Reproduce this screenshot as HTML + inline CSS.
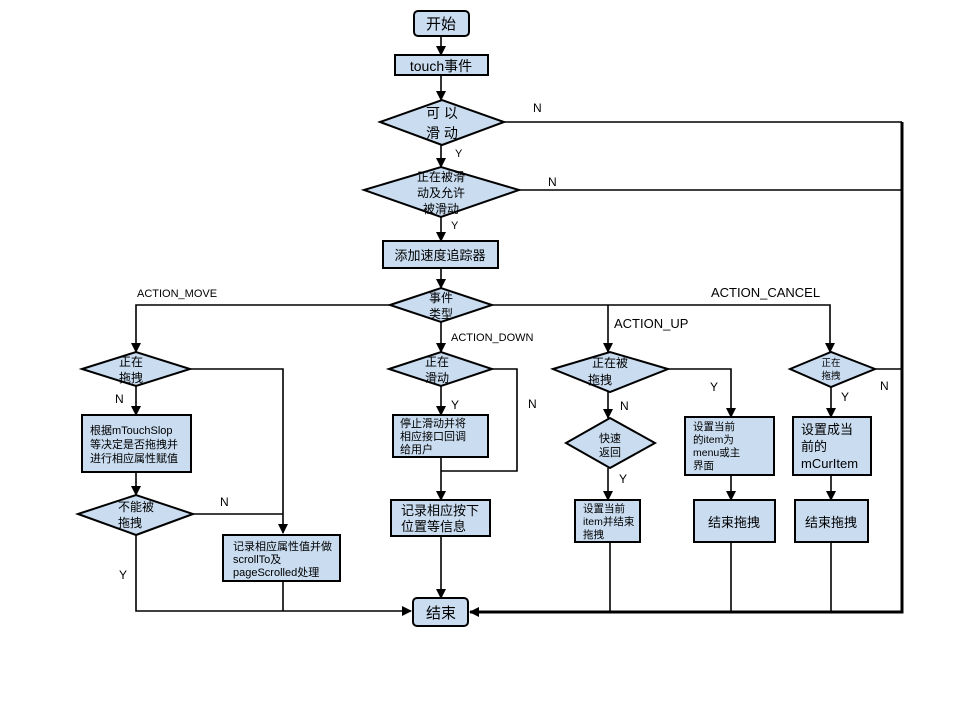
<!DOCTYPE html>
<html><head><meta charset="utf-8"><style>
html,body{margin:0;padding:0;background:#fff;}
svg{display:block;}
text{font-family:"Liberation Sans","Noto Sans CJK SC",sans-serif;fill:#000;}
.b{fill:#c9dcf0;stroke:#000;stroke-width:2;}
.l{stroke:#000;stroke-width:1.6;fill:none;}
.t{stroke:#000;stroke-width:3;fill:none;}
</style></head><body>
<svg width="960" height="720" viewBox="0 0 960 720" xmlns="http://www.w3.org/2000/svg">
<defs><marker id="a" markerWidth="10" markerHeight="10" refX="9" refY="5" orient="auto" markerUnits="userSpaceOnUse"><path d="M0,0 L10,5 L0,10 z" fill="#000"/></marker></defs>

<!-- connectors -->
<path class="l" d="M441,36 V55" marker-end="url(#a)"/>
<path class="l" d="M441,75 V100" marker-end="url(#a)"/>
<path class="l" d="M441,145 V167" marker-end="url(#a)"/>
<path class="l" d="M441,217 V241" marker-end="url(#a)"/>
<path class="l" d="M441,268 V288" marker-end="url(#a)"/>
<path class="l" d="M504,122 H902"/>
<path class="l" d="M519,190 H902"/>
<path class="t" d="M902,122 V612 H470" marker-end="url(#a)"/>
<path class="l" d="M390,305 H136 V352" marker-end="url(#a)"/>
<path class="l" d="M492,305 H830 V352" marker-end="url(#a)"/>
<path class="l" d="M608,305 V352" marker-end="url(#a)"/>
<path class="l" d="M441,322 V352" marker-end="url(#a)"/>
<!-- left -->
<path class="l" d="M190,369 H283 V533" marker-end="url(#a)"/>
<path class="l" d="M136,386 V415" marker-end="url(#a)"/>
<path class="l" d="M136,472 V495" marker-end="url(#a)"/>
<path class="l" d="M193,514 H283"/>
<path class="l" d="M136,535 V611 H411" marker-end="url(#a)"/>
<path class="l" d="M283,581 V611"/>
<!-- middle -->
<path class="l" d="M492,369 H517 V471 H441"/>
<path class="l" d="M441,386 V415" marker-end="url(#a)"/>
<path class="l" d="M441,457 V500" marker-end="url(#a)"/>
<path class="l" d="M441,536 V598" marker-end="url(#a)"/>
<!-- up -->
<path class="l" d="M668,369 H731 V417" marker-end="url(#a)"/>
<path class="l" d="M608,392 V418" marker-end="url(#a)"/>
<path class="l" d="M608,468 V500" marker-end="url(#a)"/>
<path class="l" d="M731,475 V500" marker-end="url(#a)"/>
<path class="l" d="M610,542 V612"/>
<path class="l" d="M731,542 V612"/>
<!-- cancel -->
<path class="l" d="M875,369 H902"/>
<path class="l" d="M831,387 V417" marker-end="url(#a)"/>
<path class="l" d="M831,475 V500" marker-end="url(#a)"/>
<path class="l" d="M831,542 V612"/>

<!-- shapes -->
<rect class="b" x="414" y="11" width="55" height="25" rx="4"/>
<text x="441" y="29" font-size="15" text-anchor="middle">开始</text>
<rect class="b" x="395" y="55" width="93" height="20"/>
<text x="441" y="71" font-size="14" text-anchor="middle">touch事件</text>
<polygon class="b" points="380,122 442,100 504,122 442,145"/>
<text x="442" y="118" font-size="14" text-anchor="middle">可 以</text>
<text x="442" y="138" font-size="14" text-anchor="middle">滑 动</text>
<polygon class="b" points="364,190 441,167 519,190 441,217"/>
<text x="441" y="181" font-size="12" text-anchor="middle">正在被滑</text>
<text x="441" y="197" font-size="12" text-anchor="middle">动及允许</text>
<text x="441" y="213" font-size="12" text-anchor="middle">被滑动</text>
<rect class="b" x="383" y="241" width="115" height="27"/>
<text x="440" y="260" font-size="13" text-anchor="middle">添加速度追踪器</text>
<polygon class="b" points="390,305 441,288 492,305 441,322"/>
<text x="441" y="302" font-size="12" text-anchor="middle">事件</text>
<text x="441" y="318" font-size="12" text-anchor="middle">类型</text>

<polygon class="b" points="82,369 136,352 190,369 136,386"/>
<text x="131" y="366" font-size="12" text-anchor="middle">正在</text>
<text x="131" y="382" font-size="12" text-anchor="middle">拖拽</text>
<rect class="b" x="82" y="415" width="109" height="57"/>
<text x="90" y="434" font-size="11">根据mTouchSlop</text>
<text x="90" y="448" font-size="11">等决定是否拖拽并</text>
<text x="90" y="462" font-size="11">进行相应属性赋值</text>
<polygon class="b" points="78,514 136,495 193,514 136,535"/>
<text x="136" y="511" font-size="12" text-anchor="middle">不能被</text>
<text x="130" y="527" font-size="12" text-anchor="middle">拖拽</text>
<rect class="b" x="223" y="535" width="117" height="46"/>
<text x="233" y="550" font-size="11">记录相应属性值并做</text>
<text x="233" y="563" font-size="11">scrollTo及</text>
<text x="233" y="576" font-size="11">pageScrolled处理</text>

<polygon class="b" points="389,369 441,352 492,369 441,386"/>
<text x="437" y="366" font-size="12" text-anchor="middle">正在</text>
<text x="437" y="382" font-size="12" text-anchor="middle">滑动</text>
<rect class="b" x="393" y="415" width="95" height="42"/>
<text x="400" y="427" font-size="11">停止滑动并将</text>
<text x="400" y="440" font-size="11">相应接口回调</text>
<text x="400" y="453" font-size="11">给用户</text>
<rect class="b" x="391" y="500" width="99" height="36"/>
<text x="401" y="515" font-size="13">记录相应按下</text>
<text x="401" y="531" font-size="13">位置等信息</text>
<rect class="b" x="413" y="598" width="55" height="28" rx="4"/>
<text x="441" y="618" font-size="15" text-anchor="middle">结束</text>

<polygon class="b" points="553,369 610,352 668,369 610,392"/>
<text x="610" y="367" font-size="12" text-anchor="middle">正在被</text>
<text x="600" y="384" font-size="12" text-anchor="middle">拖拽</text>
<polygon class="b" points="566,443 610,418 655,443 610,468"/>
<text x="610" y="442" font-size="11" text-anchor="middle">快速</text>
<text x="610" y="456" font-size="11" text-anchor="middle">返回</text>
<rect class="b" x="575" y="500" width="65" height="42"/>
<text x="583" y="512" font-size="10.5">设置当前</text>
<text x="583" y="525" font-size="10.5">item并结束</text>
<text x="583" y="538" font-size="10.5">拖拽</text>
<rect class="b" x="685" y="417" width="89" height="58"/>
<text x="693" y="430" font-size="10.5">设置当前</text>
<text x="693" y="443" font-size="10.5">的item为</text>
<text x="693" y="456" font-size="10.5">menu或主</text>
<text x="693" y="469" font-size="10.5">界面</text>
<rect class="b" x="694" y="500" width="81" height="42"/>
<text x="734" y="527" font-size="13" text-anchor="middle">结束拖拽</text>

<polygon class="b" points="790,369 831,352 875,369 831,387"/>
<text x="831" y="366" font-size="9.5" text-anchor="middle">正在</text>
<text x="831" y="379" font-size="9.5" text-anchor="middle">拖拽</text>
<rect class="b" x="793" y="417" width="78" height="58"/>
<text x="801" y="434" font-size="13">设置成当</text>
<text x="801" y="451" font-size="13">前的</text>
<text x="801" y="468" font-size="13">mCurItem</text>
<rect class="b" x="795" y="500" width="73" height="42"/>
<text x="831" y="527" font-size="13" text-anchor="middle">结束拖拽</text>

<!-- labels -->
<text x="533" y="112" font-size="12">N</text>
<text x="455" y="157" font-size="11">Y</text>
<text x="548" y="186" font-size="12">N</text>
<text x="451" y="229" font-size="11">Y</text>
<text x="137" y="297" font-size="11">ACTION_MOVE</text>
<text x="711" y="297" font-size="13">ACTION_CANCEL</text>
<text x="614" y="328" font-size="13">ACTION_UP</text>
<text x="451" y="341" font-size="11">ACTION_DOWN</text>
<text x="115" y="403" font-size="12">N</text>
<text x="451" y="409" font-size="12">Y</text>
<text x="528" y="408" font-size="12">N</text>
<text x="220" y="506" font-size="12">N</text>
<text x="119" y="579" font-size="12">Y</text>
<text x="620" y="410" font-size="12">N</text>
<text x="619" y="483" font-size="12">Y</text>
<text x="710" y="391" font-size="12">Y</text>
<text x="841" y="401" font-size="12">Y</text>
<text x="880" y="390" font-size="12">N</text>
</svg>
</body></html>
